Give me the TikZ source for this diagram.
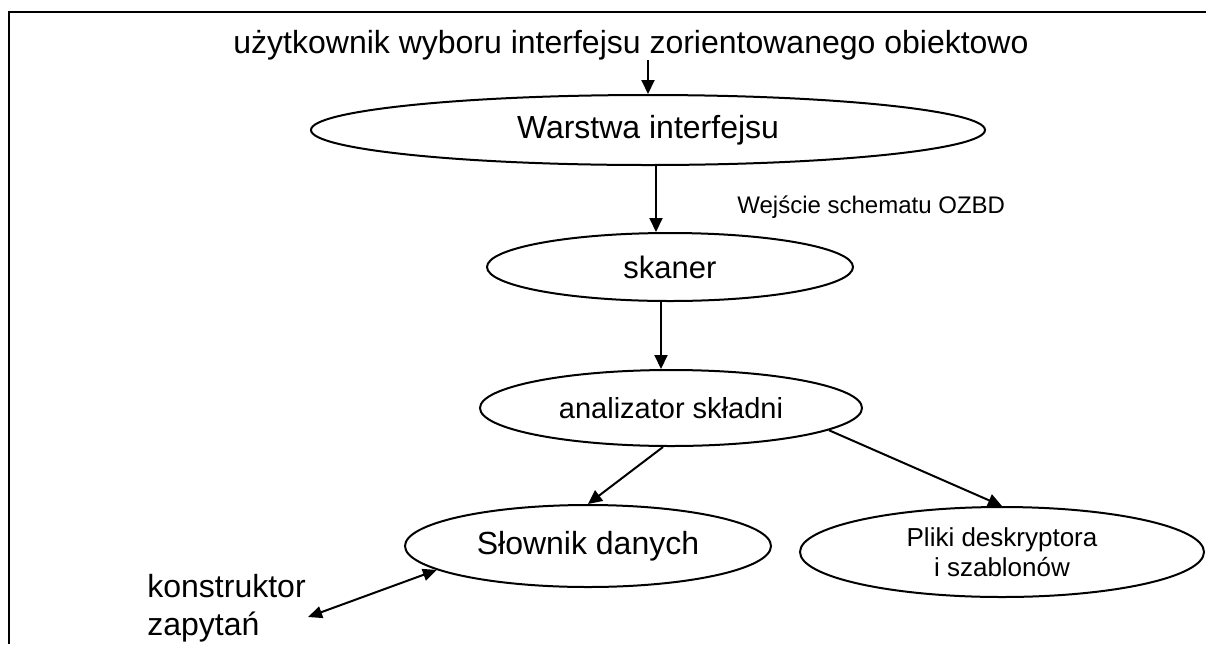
\documentclass[tikz,border=0pt]{standalone}
\usepackage{fontspec}
\setmainfont{Liberation Sans}
\usetikzlibrary{shapes.geometric,arrows.meta,calc}
\begin{document}
\begin{tikzpicture}[x=0.5pt,y=-0.5pt,
  oval/.style={draw,ellipse,line width=1pt,inner sep=0pt,align=center},
  link/.style={line width=1pt,-{Triangle[length=7pt,width=6.5pt]}},
  dlink/.style={line width=1pt,{Triangle[length=7pt,width=6pt]}-{Triangle[length=7pt,width=6pt]}},
  frame/.style={line width=1pt},
  big/.style={font=\fontsize{16}{19}\selectfont},
  plain/.style={inner sep=0pt}]
\useasboundingbox (0,0) rectangle (1206,644);
% open frame: top and left edges only
\draw[frame] (1206,12) -- (9,12) -- (9,644);

% layers
\node[plain,big,anchor=base] (user) at (631,53) {użytkownik wyboru interfejsu zorientowanego obiektowo};
\node[oval,big,minimum width=337pt,minimum height=35pt] (warstwa) at (648,130) {Warstwa interfejsu};
\node[oval,font=\fontsize{15.5}{18}\selectfont,minimum width=183pt,minimum height=34pt] (skaner) at (670,267) {skaner};
\node[oval,font=\fontsize{14.5}{17}\selectfont,minimum width=191pt,minimum height=38pt] (anal) at (671,408) {analizator składni};
\node[oval,big,minimum width=183pt,minimum height=41pt] (slow) at (588,546) {Słownik danych};
\node[oval,font=\fontsize{13}{15}\selectfont,minimum width=202pt,minimum height=45pt] (pliki) at (1002,552) {Pliki deskryptora\\i szablonów};
\node[plain,font=\fontsize{12}{14}\selectfont,anchor=base west] (wejscie) at (737,213) {Wejście schematu OZBD};
\node[plain,big,align=left,anchor=west] (konst) at (147,608) {konstruktor\\zapytań};

% connectors
\draw[link] (user.south -| warstwa.north) -- (warstwa.north);
\draw[link] ([xshift=4pt]warstwa.south) -- ([xshift=4pt]warstwa.south |- skaner.north);
\draw[link] ([xshift=-4.5pt]skaner.south) -- ([xshift=-4.5pt]skaner.south |- anal.north);
\draw[link] ([xshift=-4pt]anal.south) -- (slow.north);
\draw[link] (anal.-8) -- (pliki.north);
\draw[dlink] ($(konst.east)+(2,9)$) -- (slow.189);
\end{tikzpicture}
\end{document}
